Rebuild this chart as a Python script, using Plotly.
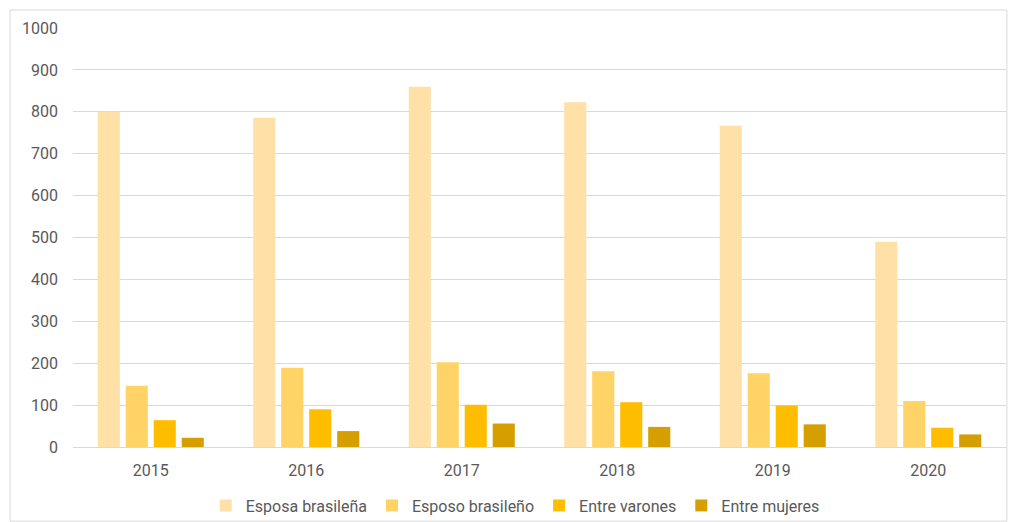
import plotly.graph_objects as go

years = ["2015", "2016", "2017", "2018", "2019", "2020"]
esposa_brasilena = [800, 786, 860, 823, 767, 490]
esposo_brasileno = [146, 189, 202, 181, 176, 110]
entre_varones = [64, 90, 101, 107, 99, 46]
entre_mujeres = [22, 38, 56, 48, 54, 30]

series = [
    ("Esposa brasileña", esposa_brasilena, "#FFE1A8"),
    ("Esposo brasileño", esposo_brasileno, "#FFD366"),
    ("Entre varones", entre_varones, "#FFBD00"),
    ("Entre mujeres", entre_mujeres, "#D69F00"),
]

fig = go.Figure()
for name, vals, col in series:
    fig.add_trace(go.Bar(x=years, y=vals, name=name, marker=dict(color=col, line=dict(width=0))))

font = dict(family="Roboto, 'Open Sans', sans-serif", size=16, color="#595959")
fig.update_layout(
    width=1010, height=522,
    margin=dict(l=73, r=4, t=28, b=75, autoexpand=False),
    paper_bgcolor="white", plot_bgcolor="white",
    barmode="group", bargap=0.28, bargroupgap=0.21,
    font=font,
    legend=dict(orientation="h", x=0.474, xanchor="center", yref="container",
                y=(522 - 505.5) / 522, yanchor="middle", bgcolor="rgba(0,0,0,0)",
                font=dict(size=16, color="#595959"), itemwidth=30),
    xaxis=dict(showgrid=False, showline=True, linecolor="#d9d9d9", linewidth=1,
               ticks="", tickfont=dict(size=16, color="#595959"), ticklabelstandoff=9),
    yaxis=dict(range=[0, 1000], dtick=100, showgrid=True, gridcolor="#d9d9d9", gridwidth=1,
               zeroline=False, ticks="", tickfont=dict(size=16, color="#595959"),
               ticklabelstandoff=14),
    shapes=[dict(type="rect", xref="paper", yref="paper",
                 x0=-0.0675, x1=1.001, y0=-0.177, y1=1.043,
                 line=dict(color="#d9d9d9", width=1), fillcolor="rgba(0,0,0,0)", layer="below")],
)

fig.write_html("out.html")
